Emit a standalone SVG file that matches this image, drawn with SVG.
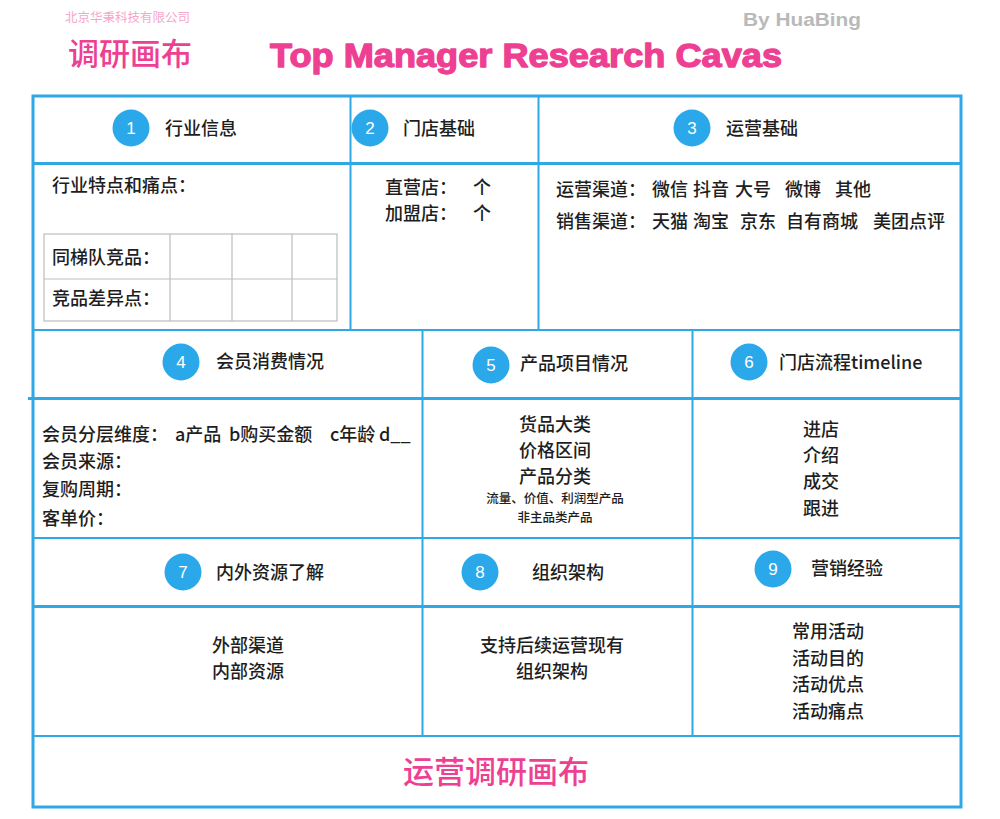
<svg xmlns="http://www.w3.org/2000/svg" width="1000" height="819" viewBox="0 0 1000 819">
<style>
.bg{fill:#ffffff}
.ln{stroke:#2fa8e6;fill:none}
.thick{stroke-width:3}
.thin{stroke-width:2}
.tb{stroke:#bdbdbd;stroke-width:1.2;fill:none}
.cj{font-family:"Noto Sans CJK SC","Noto Sans",sans-serif;fill:#1e1e1e;font-size:18px;font-weight:500}
.hd{font-family:"Noto Sans CJK SC","Noto Sans",sans-serif;fill:#1e1e1e;font-size:18px;font-weight:500}
.mid{text-anchor:middle}
.dot{fill:#2aa8ea}
.num{font-family:"Liberation Sans","Noto Sans",sans-serif;fill:#ffffff;font-size:17px;text-anchor:middle}
.pink{fill:#ee4092}
.sm{font-size:12.5px}
</style>
<rect class="bg" x="0" y="0" width="1000" height="819"/>

<g id="title">
  <text x="65" y="21.5" font-family="Noto Sans CJK SC, sans-serif" font-size="12.5" fill="#f6a6cb">北京华秉科技有限公司</text>
  <text x="68" y="65" font-family="Noto Sans CJK SC, sans-serif" font-size="31" font-weight="500" class="pink">调研画布</text>
  <text x="270" y="67" font-family="Liberation Sans, Arial, sans-serif" font-weight="bold" font-size="34" textLength="512" lengthAdjust="spacingAndGlyphs" class="pink" stroke="#ee4092" stroke-width="1.3" stroke-linejoin="round">Top Manager Research Cavas</text>
  <text x="743" y="26" font-family="Liberation Sans, Arial, sans-serif" font-weight="bold" font-size="19" textLength="118" lengthAdjust="spacingAndGlyphs" fill="#b9b9b9">By HuaBing</text>
</g>

<g id="grid">
  <rect class="ln thick" x="33" y="96" width="928" height="711"/>
  <line class="ln thick" x1="33" y1="163.5" x2="961" y2="163.5"/>
  <line class="ln thin" x1="33" y1="330" x2="961" y2="330"/>
  <line class="ln thick" x1="28" y1="398.5" x2="961" y2="398.5"/>
  <line class="ln thin" x1="33" y1="538" x2="961" y2="538"/>
  <line class="ln thick" x1="33" y1="606.5" x2="961" y2="606.5"/>
  <line class="ln thin" x1="33" y1="736" x2="961" y2="736"/>
  <line class="ln thin" x1="350.5" y1="96" x2="350.5" y2="330"/>
  <line class="ln thin" x1="538.5" y1="96" x2="538.5" y2="330"/>
  <line class="ln thin" x1="422.5" y1="330" x2="422.5" y2="736"/>
  <line class="ln thin" x1="692.5" y1="330" x2="692.5" y2="736"/>
</g>

<g id="cell1">
  <circle class="dot" cx="131" cy="128" r="18.5"/>
  <text class="num" x="131" y="134">1</text>
  <text class="hd" x="165" y="134.5">行业信息</text>
  <text class="cj" x="52" y="191.5">行业特点和痛点：</text>
  <rect class="tb" x="44" y="234" width="293" height="87"/>
  <line class="tb" x1="44" y1="279" x2="337" y2="279"/>
  <line class="tb" x1="170" y1="234" x2="170" y2="321"/>
  <line class="tb" x1="232" y1="234" x2="232" y2="321"/>
  <line class="tb" x1="292" y1="234" x2="292" y2="321"/>
  <text class="cj" x="52" y="263.5">同梯队竞品：</text>
  <text class="cj" x="52" y="304.5">竞品差异点：</text>
</g>

<g id="cell2">
  <circle class="dot" cx="370" cy="128" r="18.5"/>
  <text class="num" x="370" y="134">2</text>
  <text class="hd" x="403" y="134.5">门店基础</text>
  <text class="cj" x="385" y="194">直营店：</text>
  <text class="cj" x="473" y="194">个</text>
  <text class="cj" x="385" y="220">加盟店：</text>
  <text class="cj" x="473" y="220">个</text>
</g>

<g id="cell3">
  <circle class="dot" cx="692" cy="128" r="18.5"/>
  <text class="num" x="692" y="134">3</text>
  <text class="hd" x="726" y="134.5">运营基础</text>
  <text class="cj" y="196"><tspan x="556">运营渠道：</tspan><tspan x="652">微信</tspan><tspan x="693">抖音</tspan><tspan x="735">大号</tspan><tspan x="785">微博</tspan><tspan x="835">其他</tspan></text>
  <text class="cj" y="228"><tspan x="556">销售渠道：</tspan><tspan x="652">天猫</tspan><tspan x="693">淘宝</tspan><tspan x="740">京东</tspan><tspan x="786">自有商城</tspan><tspan x="873">美团点评</tspan></text>
</g>

<g id="cell4">
  <circle class="dot" cx="181" cy="362" r="18.5"/>
  <text class="num" x="181" y="368">4</text>
  <text class="hd" x="216" y="368">会员消费情况</text>
  <text class="cj" y="441"><tspan x="42">会员分层维度：</tspan><tspan x="175">a产品</tspan><tspan x="229">b购买金额</tspan><tspan x="330">c年龄</tspan><tspan x="379">d__</tspan></text>
  <text class="cj" x="42" y="468">会员来源：</text>
  <text class="cj" x="42" y="496">复购周期：</text>
  <text class="cj" x="42" y="525">客单价：</text>
</g>

<g id="cell5">
  <circle class="dot" cx="491" cy="365" r="18.5"/>
  <text class="num" x="491" y="371">5</text>
  <text class="hd" x="520" y="370">产品项目情况</text>
  <text class="cj mid" x="555" y="430.5">货品大类</text>
  <text class="cj mid" x="555" y="456.5">价格区间</text>
  <text class="cj mid" x="555" y="482.5">产品分类</text>
  <text class="cj mid sm" x="555" y="502.5">流量、价值、利润型产品</text>
  <text class="cj mid sm" x="555" y="521.5">非主品类产品</text>
</g>

<g id="cell6">
  <circle class="dot" cx="749" cy="362" r="18.5"/>
  <text class="num" x="749" y="368">6</text>
  <text class="hd" x="779" y="368.5">门店流程timeline</text>
  <text class="cj mid" x="821" y="435.5">进店</text>
  <text class="cj mid" x="821" y="461.5">介绍</text>
  <text class="cj mid" x="821" y="487.5">成交</text>
  <text class="cj mid" x="821" y="514.5">跟进</text>
</g>

<g id="cell7">
  <circle class="dot" cx="183" cy="572" r="18.5"/>
  <text class="num" x="183" y="578">7</text>
  <text class="hd" x="216" y="578.5">内外资源了解</text>
  <text class="cj mid" x="248" y="651.5">外部渠道</text>
  <text class="cj mid" x="248" y="678">内部资源</text>
</g>

<g id="cell8">
  <circle class="dot" cx="480" cy="572" r="18.5"/>
  <text class="num" x="480" y="578">8</text>
  <text class="hd" x="532" y="578.5">组织架构</text>
  <text class="cj mid" x="552" y="651.5">支持后续运营现有</text>
  <text class="cj mid" x="552" y="678">组织架构</text>
</g>

<g id="cell9">
  <circle class="dot" cx="773" cy="569" r="18.5"/>
  <text class="num" x="773" y="575">9</text>
  <text class="hd" x="811" y="575">营销经验</text>
  <text class="cj mid" x="828" y="638">常用活动</text>
  <text class="cj mid" x="828" y="664.5">活动目的</text>
  <text class="cj mid" x="828" y="691">活动优点</text>
  <text class="cj mid" x="828" y="717.5">活动痛点</text>
</g>

<g id="footer">
  <text x="496" y="783" font-family="Noto Sans CJK SC, sans-serif" font-size="31" font-weight="500" text-anchor="middle" class="pink">运营调研画布</text>
</g>
</svg>
